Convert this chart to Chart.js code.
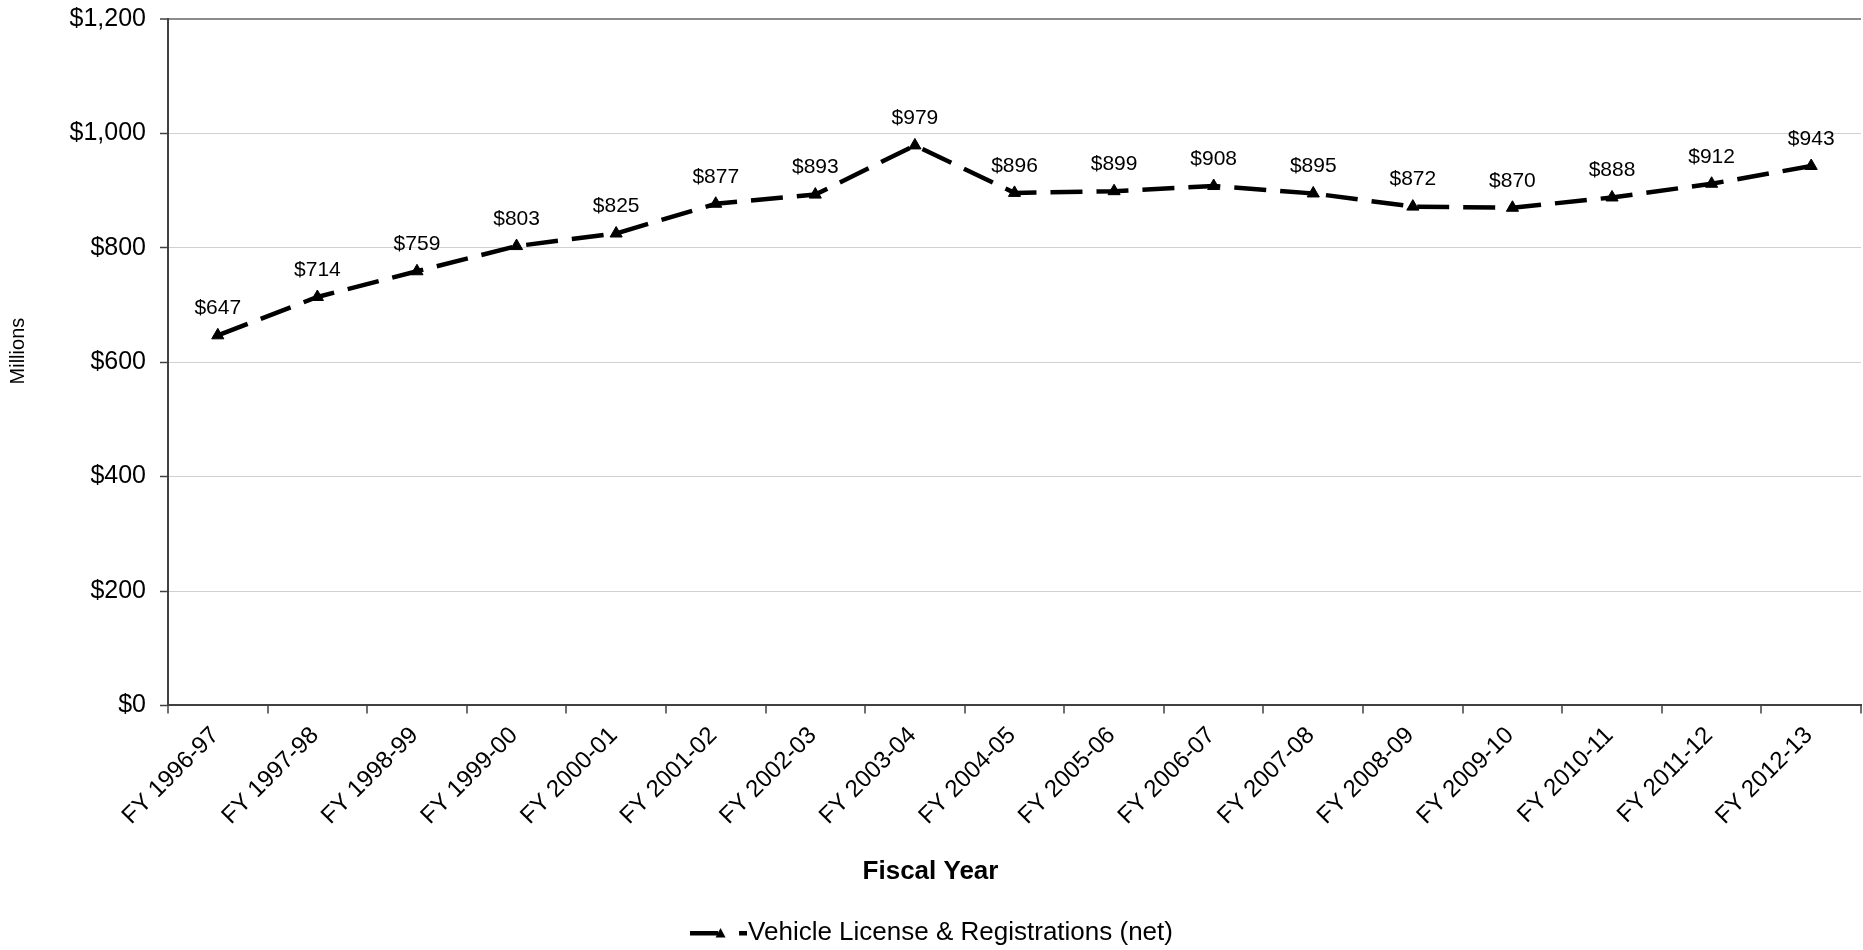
<!DOCTYPE html>
<html>
<head>
<meta charset="utf-8">
<script src="https://cdn.jsdelivr.net/npm/chart.js@4.4.1/dist/chart.umd.min.js"></script>
<style>
  html, body { margin: 0; padding: 0; background: #fff; }
</style>
</head>
<body>
<canvas id="chart" width="1863" height="950"></canvas>
<script>
const fiscalYears = ['FY 1996-97', 'FY 1997-98', 'FY 1998-99', 'FY 1999-00', 'FY 2000-01', 'FY 2001-02',
  'FY 2002-03', 'FY 2003-04', 'FY 2004-05', 'FY 2005-06', 'FY 2006-07', 'FY 2007-08', 'FY 2008-09',
  'FY 2009-10', 'FY 2010-11', 'FY 2011-12', 'FY 2012-13'];
const revenue = [647, 714, 759, 803, 825, 877, 893, 979, 896, 899, 908, 895, 872, 870, 888, 912, 943];
const seriesName = 'Vehicle License & Registrations (net)';
const xTitle = 'Fiscal Year';
const yTitle = 'Millions';
const yMax = 1200;
const yStep = 200;

Chart.defaults.font.family = '"Liberation Sans", Arial, sans-serif';
Chart.defaults.color = '#000';

// legend key: solid line, triangle, short dash (like the Excel key)
function legendSymbol() {
  const c = document.createElement('canvas');
  c.width = 57;
  c.height = 16;
  const g = c.getContext('2d');
  g.fillStyle = '#000';
  g.fillRect(0, 6, 28, 4.5);
  g.beginPath();
  g.moveTo(30.5, 3);
  g.lineTo(35.5, 12.5);
  g.lineTo(25.5, 12.5);
  g.closePath();
  g.fill();
  g.fillRect(49, 6, 8, 4.5);
  return c;
}

const dataLabels = {
  id: 'dataLabels',
  afterDatasetsDraw(chart) {
    const ctx = chart.ctx;
    const meta = chart.getDatasetMeta(0);
    ctx.save();
    ctx.font = '21px "Liberation Sans", Arial, sans-serif';
    ctx.fillStyle = '#000';
    ctx.textAlign = 'center';
    ctx.textBaseline = 'middle';
    meta.data.forEach((pt, i) => {
      ctx.fillText('$' + revenue[i], pt.x, pt.y - 27);
    });
    ctx.restore();
  }
};

// small nudge so the legend sits where the original one does
const legendShift = {
  id: 'legendShift',
  afterLayout(chart) {
    const lg = chart.legend;
    lg.left += 7;
    lg.right += 7;
    lg.top += 6;
    lg.bottom += 6;
  }
};

new Chart(document.getElementById('chart'), {
  type: 'line',
  data: {
    labels: fiscalYears,
    datasets: [{
      label: seriesName,
      data: revenue,
      borderColor: '#000',
      borderWidth: 4.5,
      borderDash: [32, 14],
      borderCapStyle: 'butt',
      fill: false,
      tension: 0,
      pointStyle: 'triangle',
      pointRadius: 7,
      pointBackgroundColor: '#000',
      pointBorderColor: '#000',
      pointBorderWidth: 1
    }]
  },
  options: {
    responsive: false,
    animation: false,
    layout: { autoPadding: false, padding: { top: 19, right: 2, left: 0, bottom: 0 } },
    scales: {
      x: {
        offset: true,
        ticks: {
          autoSkip: false,
          minRotation: 45,
          maxRotation: 45,
          padding: 8,
          labelOffset: -2.5,
          font: { size: 24 },
          color: '#000'
        },
        grid: {
          offset: true,
          drawOnChartArea: true,
          color: ctx => ctx.index === fiscalYears.length ? '#8c8c8c' : 'rgba(0,0,0,0)',
          lineWidth: 2,
          tickColor: '#404040',
          tickWidth: 1.5,
          tickLength: 8
        },
        border: { color: '#404040', width: 2 },
        afterFit(scale) {
          scale.height = 141;
          scale.paddingLeft = 0;
          scale.paddingRight = 0;
        }
      },
      y: {
        min: 0,
        max: yMax,
        ticks: {
          stepSize: yStep,
          padding: 14,
          font: { size: 25 },
          color: '#000',
          callback: v => '$' + v.toLocaleString('en-US')
        },
        grid: {
          color: ctx => ctx.tick && ctx.tick.value === yMax ? '#8c8c8c' : '#d0d0d0',
          lineWidth: ctx => ctx.tick && ctx.tick.value === yMax ? 2 : 1,
          tickColor: '#404040',
          tickWidth: 1.5,
          tickLength: 8
        },
        border: { color: '#404040', width: 2 },
        title: {
          display: true,
          text: '    ' + yTitle,
          font: { size: 20 },
          color: '#000',
          padding: { top: 6, bottom: 0 }
        },
        afterFit(scale) {
          scale.width = 168;
          scale.paddingTop = 0;
          scale.paddingBottom = 0;
        }
      }
    },
    plugins: {
      title: {
        display: true,
        text: xTitle,
        position: 'bottom',
        weight: 500,
        font: { size: 26, weight: 'bold' },
        color: '#000',
        padding: { top: 10, bottom: 16.4 }
      },
      legend: {
        position: 'bottom',
        labels: {
          usePointStyle: true,
          pointStyleWidth: 33,
          padding: 10,
          font: { size: 26 },
          color: '#000',
          generateLabels: () => [{
            text: seriesName,
            pointStyle: legendSymbol(),
            fillStyle: '#000',
            strokeStyle: '#000',
            lineWidth: 0,
            hidden: false,
            datasetIndex: 0
          }]
        }
      },
      tooltip: { enabled: false }
    }
  },
  plugins: [dataLabels, legendShift]
});
</script>
</body>
</html>
